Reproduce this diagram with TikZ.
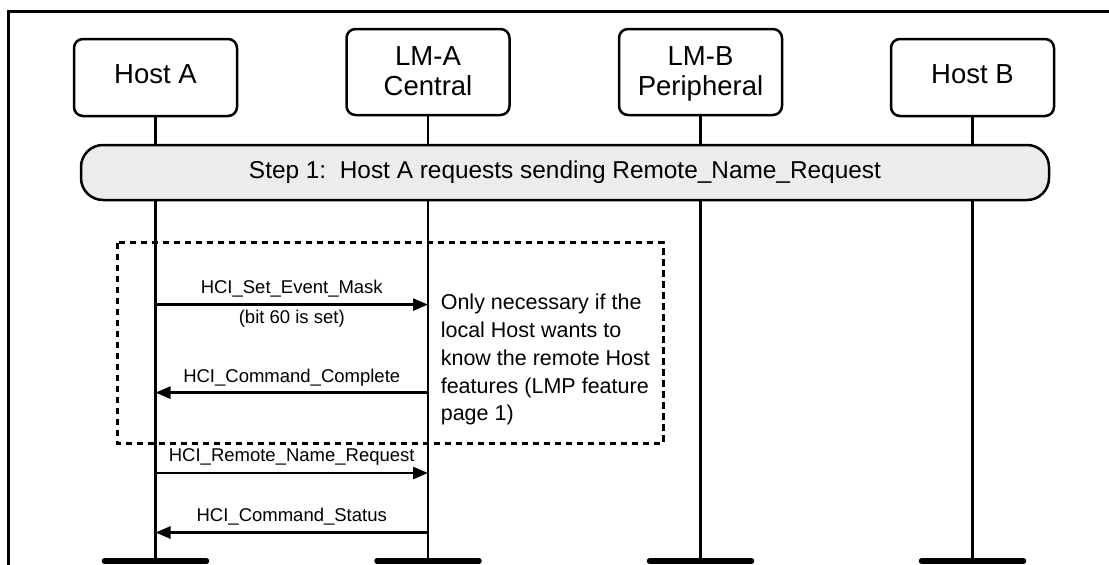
\documentclass[tikz,border=0pt]{standalone}
\usepackage{fontspec}
\setmainfont{Liberation Sans}
\usetikzlibrary{arrows.meta}
\definecolor{stepgray}{RGB}{236,236,236}
\begin{document}
\begin{tikzpicture}[x=1pt,y=-1pt,
  hdr/.style={draw, line width=2.5pt, rounded corners=9pt, minimum width=163pt, font=\fontsize{27.5}{35}\selectfont, align=center, inner sep=0pt},
  life/.style={line width=2.5pt},
  msg/.style={line width=2.5pt, -{Triangle[length=15pt,width=12pt]}},
  lbl/.style={font=\fontsize{18.5}{22}\selectfont, inner sep=0pt},
  bar/.style={line width=5.5pt, line cap=round},
  dashbox/.style={line width=3pt, dash pattern=on 6.5pt off 4.5pt},
  stepbox/.style={draw, line width=2.5pt, fill=stepgray, rounded corners=22pt, minimum width=968pt, minimum height=55pt, font=\fontsize{24.4}{28}\selectfont, inner sep=0pt}]
\useasboundingbox (0,0) rectangle (1109,565);
\draw[line width=3pt] (8,565) -- (8,11) -- (1109,11);

\node[hdr, minimum height=77pt, text depth=6pt] (ha) at (155.5,77.5) {Host A};
\node[hdr, minimum height=86pt, text depth=2pt] (lma) at (428,72) {LM-A\\[-5pt]Central};
\node[hdr, minimum height=86pt, text depth=2pt] (lmb) at (700.5,72) {LM-B\\[-5pt]Peripheral};
\node[hdr, minimum height=77pt, text depth=6pt] (hb) at (972.5,77.5) {Host B};

\coordinate (ea) at (155.5,561);
\coordinate (elma) at (428,561);
\coordinate (elmb) at (700.5,561);
\coordinate (eb) at (972.5,561);

\draw[life] (ha.south) -- (ea);
\draw[life] (lma.south) -- (elma);
\draw[life] (lmb.south) -- (elmb);
\draw[life] (hb.south) -- (eb);

\foreach \e in {ea,elma,elmb,eb}{
  \draw[bar] ([xshift=-51pt]\e) -- ([xshift=51pt]\e);
}

\node[stepbox] (step) at (565,172.5) {Step 1:\ \ Host A requests sending Remote\_Name\_Request};

\draw[dashbox] (117,242.5) rectangle (663,443);

\coordinate (a1) at (155.5,304.6);
\coordinate (m1) at (428,304.6);
\coordinate (a2) at (155.5,392.6);
\coordinate (m2) at (428,392.6);
\coordinate (a3) at (155.5,473);
\coordinate (m3) at (428,473);
\coordinate (a4) at (155.5,532.5);
\coordinate (m4) at (428,532.5);

\draw[msg] (a1) -- (m1)
  node[lbl, midway, above=6.5pt] (l1) {HCI\_Set\_Event\_Mask}
  node[lbl, midway, below=4.5pt] (l1b) {(bit 60 is set)};
\draw[msg] (m2) -- (a2)
  node[lbl, midway, above=5pt] (l2) {HCI\_Command\_Complete};
\draw[msg] (a3) -- (m3)
  node[lbl, midway, above=6pt] (l3) {HCI\_Remote\_Name\_Request};
\draw[msg] (m4) -- (a4)
  node[lbl, midway, above=6pt] (l4) {HCI\_Command\_Status};

\node[anchor=west, align=left, font=\fontsize{21.5}{27.7}\selectfont, inner sep=0pt] (note) at (440.6,359.8)
  {Only necessary if the\\local Host wants to\\know the remote Host\\features (LMP feature\\page 1)};
\end{tikzpicture}
\end{document}
